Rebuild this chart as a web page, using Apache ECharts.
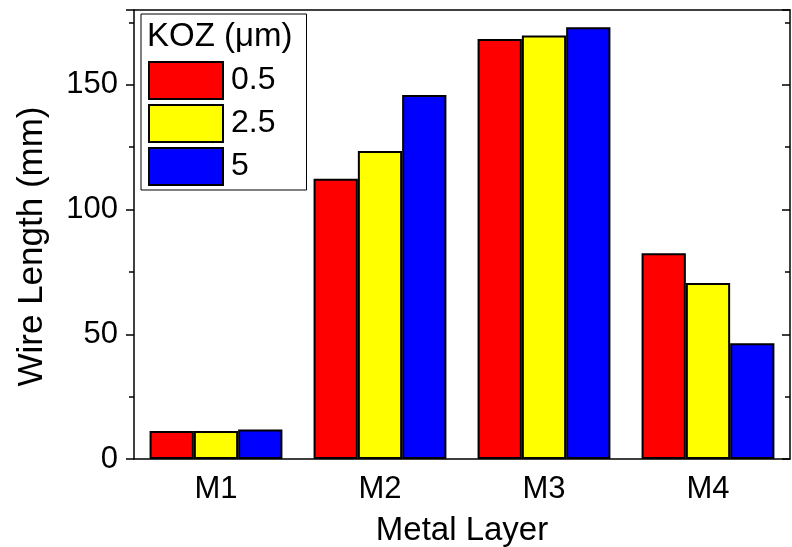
<!DOCTYPE html>
<html><head><meta charset="utf-8">
<script src="https://cdn.jsdelivr.net/npm/echarts@6/dist/echarts.min.js"></script>
<style>html,body{margin:0;padding:0;background:#fff}#c{width:792px;height:547px}</style>
</head><body><div id="c"></div>
<script>
const categories = ['M1', 'M2', 'M3', 'M4'];
const seriesNames = ['0.5', '2.5', '5'];
const koz05 = [11.2, 112.3, 168.4, 82.5];
const koz25 = [11.2, 123.5, 169.8, 70.6];
const koz5 = [11.8, 145.9, 173.1, 46.4];
const colors = ['#ff0000', '#ffff00', '#0000ff'];
const yTicks = [0, 50, 100, 150];

const FONT = 'Liberation Sans, Arial, sans-serif';
const chart = echarts.init(document.getElementById('c'), null, {renderer: 'canvas'});
const lineStyle = {color: '#000', width: 1.5};
const mkBar = (name, data, color) => ({
  name, type: 'bar', data, xAxisIndex: 0, yAxisIndex: 0,
  barGap: '0%', barCategoryGap: '19%',
  itemStyle: {color, borderColor: '#000', borderWidth: 2},
  emphasis: {disabled: true}
});
chart.setOption({
  animation: false,
  backgroundColor: '#fff',
  textStyle: {fontFamily: FONT},
  grid: {left: 134, right: 2, top: 10, bottom: 88, containLabel: false, outerBoundsMode: 'none'},
  title: {text: 'KOZ (μm)', left: 147, top: 20, padding: 0,
    textStyle: {fontFamily: FONT, fontSize: 33, fontWeight: 'normal', color: '#000'}},
  legend: {
    orient: 'vertical', left: 141, top: 14,
    data: seriesNames.map(n => ({name: n, icon: 'rect'})),
    itemWidth: 74, itemHeight: 37, itemGap: 4,
    padding: [47, 31, 4, 7],
    borderColor: '#000', borderWidth: 1,
    textStyle: {fontFamily: FONT, fontSize: 32, color: '#000', padding: [0, 0, 0, 3]},
    selectedMode: false
  },
  xAxis: [
    {type: 'category', data: categories, position: 'bottom',
      axisLine: {lineStyle}, axisTick: {alignWithLabel: true, length: 9, lineStyle},
      axisLabel: {fontFamily: FONT, fontSize: 31, color: '#000', margin: 15},
      name: 'Metal Layer', nameLocation: 'middle', nameGap: 55,
      nameTextStyle: {fontFamily: FONT, fontSize: 33, color: '#000'}},
    {type: 'category', data: categories, position: 'bottom',
      axisLine: {show: false}, axisTick: {length: 4, lineStyle}, axisLabel: {show: false}},
    {type: 'category', data: categories, position: 'top',
      axisLine: {lineStyle}, axisTick: {alignWithLabel: true, inside: true, length: 9, lineStyle},
      axisLabel: {show: false}},
    {type: 'category', data: categories, position: 'top',
      axisLine: {show: false}, axisTick: {inside: true, length: 4, lineStyle}, axisLabel: {show: false}}
  ],
  yAxis: [
    {type: 'value', min: 0, max: 180, interval: 50, position: 'left',
      axisLine: {show: true, lineStyle}, axisTick: {show: true, length: 8, lineStyle},
      minorTick: {show: true, splitNumber: 2, length: 5, lineStyle},
      splitLine: {show: false},
      axisLabel: {fontFamily: FONT, fontSize: 31, color: '#000', margin: 16,
        formatter: v => yTicks.includes(v) ? String(v) : ''},
      name: 'Wire Length (mm)', nameLocation: 'middle', nameGap: 84,
      nameTextStyle: {fontFamily: FONT, fontSize: 35, color: '#000', padding: [0, 24, 0, 0]}},
    {type: 'value', min: 0, max: 180, interval: 50, position: 'right',
      axisLine: {show: true, lineStyle}, axisTick: {show: true, inside: true, length: 8, lineStyle},
      minorTick: {show: true, splitNumber: 2, length: 5, lineStyle},
      splitLine: {show: false}, axisLabel: {show: false}}
  ],
  series: [
    mkBar(seriesNames[0], koz05, colors[0]),
    mkBar(seriesNames[1], koz25, colors[1]),
    mkBar(seriesNames[2], koz5, colors[2])
  ]
});
</script></body></html>
